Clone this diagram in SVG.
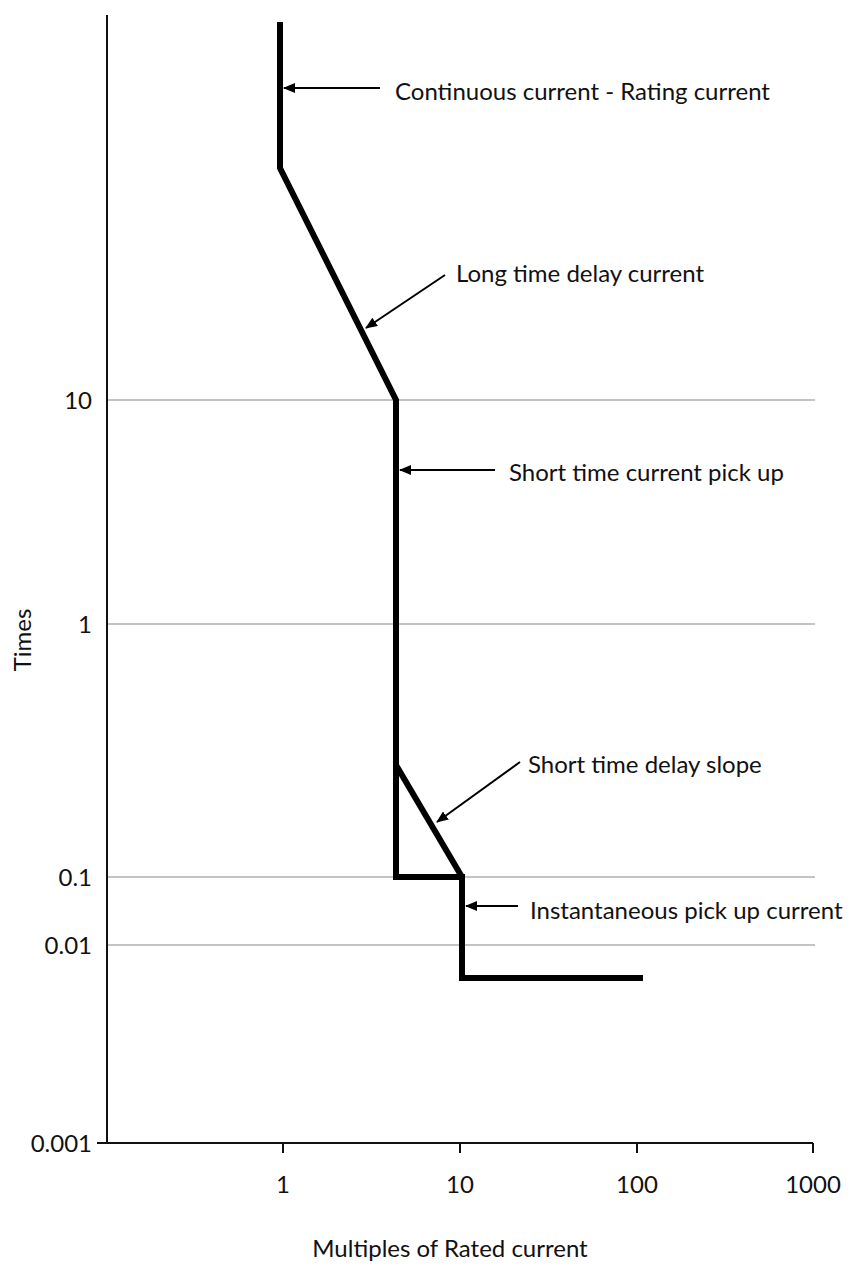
<svg xmlns="http://www.w3.org/2000/svg" width="857" height="1285" viewBox="0 0 857 1285">
<style>
text{font-family:Lato,"Liberation Sans",sans-serif;font-size:24px;fill:#111}
.ax{stroke:#111;stroke-width:2;fill:none}
.grid{stroke:#888;stroke-width:1.2}
.curve{stroke:#000;stroke-width:6;fill:none;stroke-linejoin:miter}
.arr{stroke:#000;stroke-width:2;marker-end:url(#ah)}
</style>
<defs><marker id="ah" markerWidth="12" markerHeight="10" refX="11" refY="5" orient="auto" markerUnits="userSpaceOnUse"><path d="M0,0 L12,5 L0,10 z" fill="#000"/></marker></defs>
<rect width="857" height="1285" fill="#fff"/>
<g id="grid">
<line class="grid" x1="107" y1="400" x2="815" y2="400"/>
<line class="grid" x1="107" y1="624" x2="815" y2="624"/>
<line class="grid" x1="107" y1="877" x2="815" y2="877"/>
<line class="grid" x1="107" y1="945" x2="815" y2="945"/>
</g>
<g id="axes">
<path class="ax" d="M107,15 V1143 H813"/>
<path class="ax" d="M97,1143 H107 M283,1143 V1153 M460,1143 V1153 M637,1143 V1153 M813,1143 V1153"/>
</g>
<g id="labels">
<text x="92" y="409" text-anchor="end">10</text>
<text x="92" y="633" text-anchor="end">1</text>
<text x="92" y="886" text-anchor="end">0.1</text>
<text x="92" y="954" text-anchor="end">0.01</text>
<text x="92" y="1152" text-anchor="end">0.001</text>
<text x="283" y="1193" text-anchor="middle">1</text>
<text x="460" y="1193" text-anchor="middle">10</text>
<text x="637" y="1193" text-anchor="middle">100</text>
<text x="813" y="1193" text-anchor="middle">1000</text>
<text x="450" y="1257" text-anchor="middle">Multiples of Rated current</text>
<text transform="translate(31,640) rotate(-90)" text-anchor="middle">Times</text>
</g>
<g id="curve">
<path class="curve" d="M280,22 V168 L396,400 V877 H462 V978 H643"/>
<path class="curve" d="M396,765 L462,877"/>
</g>
<g id="connectors">
<line class="arr" x1="380" y1="88" x2="284" y2="88"/>
<line class="arr" x1="445" y1="275" x2="366" y2="328"/>
<line class="arr" x1="495" y1="470" x2="400" y2="470"/>
<line class="arr" x1="520" y1="762" x2="437" y2="822"/>
<line class="arr" x1="518" y1="906" x2="466" y2="906"/>
</g>
<g id="annotations">
<text x="395" y="100">Continuous current - Rating current</text>
<text x="456" y="282">Long time delay current</text>
<text x="509" y="481">Short time current pick up</text>
<text x="528" y="773">Short time delay slope</text>
<text x="530" y="919">Instantaneous pick up current</text>
</g>
</svg>
